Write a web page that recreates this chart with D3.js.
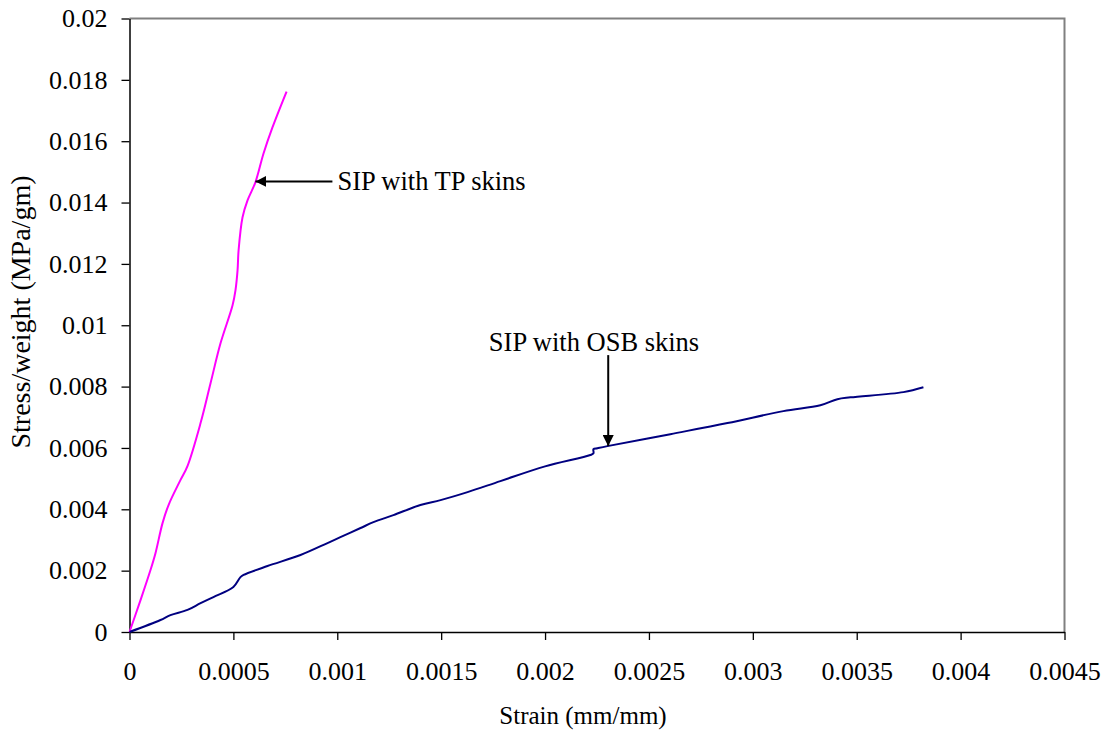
<!DOCTYPE html>
<html>
<head>
<meta charset="utf-8">
<script src="https://cdn.jsdelivr.net/npm/d3@7"></script>
<style>
  body { margin: 0; background: #fff; }
  svg text { font-family: "Liberation Serif", "Times New Roman", serif; fill: #000; }
</style>
</head>
<body>
<div id="chart"></div>
<script>
// values
var tpStrain = [0, 0.000053, 0.000101, 0.000125, 0.000159, 0.000188, 0.000245, 0.000279,
    0.000342, 0.000390, 0.000438, 0.000496, 0.000510, 0.000520, 0.000525, 0.000544,
    0.000568, 0.000606, 0.000645, 0.000688, 0.000756];
var tpStress = [0, 0.00104, 0.00202, 0.00257, 0.00355, 0.00414, 0.00495, 0.00541,
    0.00681, 0.00811, 0.00941, 0.01065, 0.01114, 0.01179, 0.01244, 0.01352,
    0.01407, 0.01466, 0.01560, 0.01645, 0.01762];

var osbStrain = [0, 0.000149, 0.000197, 0.000279, 0.000342, 0.000404, 0.000500, 0.000534,
    0.000549, 0.000664, 0.000823, 0.000953, 0.001015, 0.001112, 0.001174, 0.001270,
    0.001400, 0.001497, 0.001627, 0.001785, 0.002000, 0.002218, 0.002233, 0.002233,
    0.002252, 0.002300, 0.002603, 0.002878, 0.003147, 0.003325, 0.003407, 0.003470,
    0.003725, 0.003821];
var osbStress = [0, 0.00039, 0.00055, 0.00072, 0.00094, 0.00114, 0.00147, 0.00179,
    0.00186, 0.00215, 0.00251, 0.00290, 0.00309, 0.00339, 0.00358, 0.00381,
    0.00414, 0.00430, 0.00456, 0.00492, 0.00540, 0.00577, 0.00583, 0.00596,
    0.00599, 0.00606, 0.00645, 0.00681, 0.00720, 0.00739, 0.00759, 0.00765,
    0.00782, 0.00798];

var xTicks = [0, 0.0005, 0.001, 0.0015, 0.002, 0.0025, 0.003, 0.0035, 0.004, 0.0045];
var xTickLabels = ['0', '0.0005', '0.001', '0.0015', '0.002', '0.0025', '0.003', '0.0035', '0.004', '0.0045'];
var yTicks = [0, 0.002, 0.004, 0.006, 0.008, 0.01, 0.012, 0.014, 0.016, 0.018, 0.02];
var yTickLabels = ['0', '0.002', '0.004', '0.006', '0.008', '0.01', '0.012', '0.014', '0.016', '0.018', '0.02'];

// annotation: label and the point its arrow touches
var notes = [
    {text: 'SIP with TP skins', x: 0.000606, y: 0.01469, dir: 'left'},
    {text: 'SIP with OSB skins', x: 0.002304, y: 0.00606, dir: 'down'}
];

var W = 1115, H = 734;
var plotL = 129.5, plotR = 1064.5, plotT = 18.5, plotB = 632;

var svg = d3.select('#chart').append('svg')
    .attr('width', W).attr('height', H);

var x = d3.scaleLinear().domain([0, 0.0045]).range([plotL, plotR]);
var y = d3.scaleLinear().domain([0, 0.02]).range([plotB, plotT]);

// gray frame on top and right
svg.append('path')
    .attr('d', 'M' + plotL + ',' + plotT + 'H' + plotR + 'V' + plotB)
    .attr('fill', 'none')
    .attr('stroke', '#808080')
    .attr('stroke-width', 2);

var xAxis = d3.axisBottom(x).tickValues(xTicks)
    .tickFormat(function (d, i) { return xTickLabels[i]; })
    .tickSizeInner(8).tickSizeOuter(0).tickPadding(22);
var yAxis = d3.axisLeft(y).tickValues(yTicks)
    .tickFormat(function (d, i) { return yTickLabels[i]; })
    .tickSizeInner(8).tickSizeOuter(0).tickPadding(14);

var gx = svg.append('g').attr('transform', 'translate(0,' + plotB + ')').call(xAxis);
var gy = svg.append('g').attr('transform', 'translate(' + plotL + ',0)').call(yAxis);

[gx, gy].forEach(function (g) {
    g.select('.domain').attr('stroke', '#000').attr('stroke-width', 1.5);
    g.selectAll('.tick line').attr('stroke', '#000').attr('stroke-width', 1.3);
    g.selectAll('.tick text')
        .style('font-family', '"Liberation Serif", serif')
        .style('font-size', '26px')
        .attr('fill', '#000');
});

svg.append('text')
    .attr('x', 583).attr('y', 724)
    .attr('text-anchor', 'middle')
    .style('font-size', '25px')
    .text('Strain (mm/mm)');

svg.append('text')
    .attr('transform', 'translate(30,312) rotate(-90)')
    .attr('text-anchor', 'middle')
    .style('font-size', '28px')
    .text('Stress/weight (MPa/gm)');

var line = d3.line()
    .x(function (d) { return x(d[0]); })
    .y(function (d) { return y(d[1]); })
    .curve(d3.curveCatmullRom.alpha(0.5));

var series = [
    {strain: tpStrain, stress: tpStress, color: '#ff00ff'},
    {strain: osbStrain, stress: osbStress, color: '#000080'}
];

series.forEach(function (s) {
    var pts = s.strain.map(function (v, i) { return [v, s.stress[i]]; });
    svg.append('path')
        .datum(pts)
        .attr('d', line)
        .attr('fill', 'none')
        .attr('stroke', s.color)
        .attr('stroke-width', 2);
});

svg.append('defs').append('marker')
    .attr('id', 'head')
    .attr('viewBox', '0 0 10 10')
    .attr('refX', 10).attr('refY', 5)
    .attr('markerWidth', 11).attr('markerHeight', 11)
    .attr('markerUnits', 'userSpaceOnUse')
    .attr('orient', 'auto')
    .append('path')
    .attr('d', 'M0,0L10,5L0,10Z')
    .attr('fill', '#000');

notes.forEach(function (n) {
    var px = x(n.x), py = y(n.y);
    var x1, y1, tx, ty, anchor;
    if (n.dir == 'left') {
        x1 = px + 77; y1 = py;
        tx = x1 + 5; ty = py + 9; anchor = 'start';
    } else {
        x1 = px; y1 = py - 91;
        tx = 594; ty = y1 - 4; anchor = 'middle';
    }
    svg.append('line')
        .attr('x1', x1).attr('y1', y1)
        .attr('x2', px).attr('y2', py)
        .attr('stroke', '#000')
        .attr('stroke-width', 2)
        .attr('marker-end', 'url(#head)');
    svg.append('text')
        .attr('x', tx).attr('y', ty)
        .attr('text-anchor', anchor)
        .style('font-size', '26.5px')
        .text(n.text);
});
</script>
</body>
</html>
